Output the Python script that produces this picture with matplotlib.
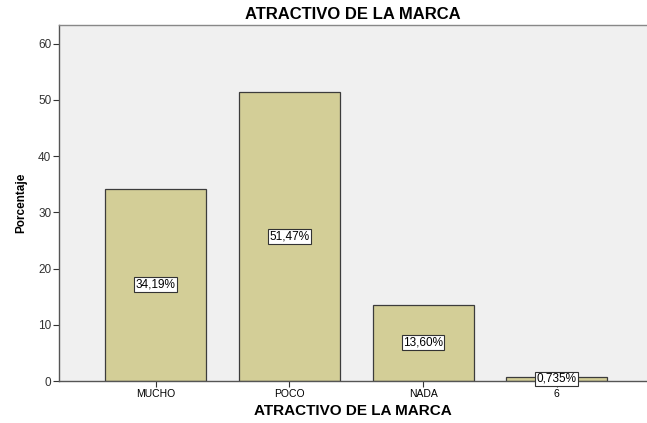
import matplotlib
matplotlib.use("Agg")
import matplotlib.pyplot as plt
import numpy as np

plt.rcParams["font.family"] = ["Liberation Sans", "DejaVu Sans"]

categorias = ["MUCHO", "POCO", "NADA", "6"]
porcentajes = [34.19, 51.47, 13.60, 0.735]
etiquetas = ["34,19%", "51,47%", "13,60%", "0,735%"]
yticks = [0, 10, 20, 30, 40, 50, 60]

fig = plt.figure(figsize=(6.47, 4.23), dpi=100)
ax = fig.add_axes([59 / 647, 1 - 381 / 423, (647 - 59) / 647, (381 - 25) / 423])
ax.set_facecolor("#f0f0f0")

x = np.arange(len(categorias))
ax.bar(x, porcentajes, width=0.755, color="#d3ce97", edgecolor="#3c3c3c", linewidth=0.9, zorder=2)

# etiqueta de porcentaje en el centro de cada barra
for xi, v, lab in zip(x, porcentajes, etiquetas):
    ax.text(xi, v / 2, lab, ha="center", va="center", fontsize=8.5, color="black", zorder=3,
            bbox=dict(boxstyle="square,pad=0.12", facecolor="white", edgecolor="#333333", linewidth=0.8))

ax.set_xlim(-0.723, 3.675)
ax.set_ylim(0, 63.3)
ax.set_xticks(x)
ax.set_xticklabels(categorias, fontsize=7.5)
ax.set_yticks(yticks)
ax.set_yticklabels([str(t) for t in yticks], fontsize=8.5, color="#333333")
ax.tick_params(axis="both", length=4, width=0.8, color="#333333", pad=1.5)

for side in ["left", "bottom"]:
    ax.spines[side].set_color("#555555")
    ax.spines[side].set_linewidth(1.0)
ax.spines["top"].set_color("#888888")
ax.spines["top"].set_linewidth(1.0)
ax.spines["right"].set_visible(False)

ax.set_title("ATRACTIVO DE LA MARCA", fontsize=12, fontweight="bold", pad=4)
ax.set_xlabel("ATRACTIVO DE LA MARCA", fontsize=11, fontweight="bold", labelpad=4)
ax.set_ylabel("Porcentaje", fontsize=8.5, fontweight="bold", labelpad=8)

fig.savefig("out.png", dpi=100)
